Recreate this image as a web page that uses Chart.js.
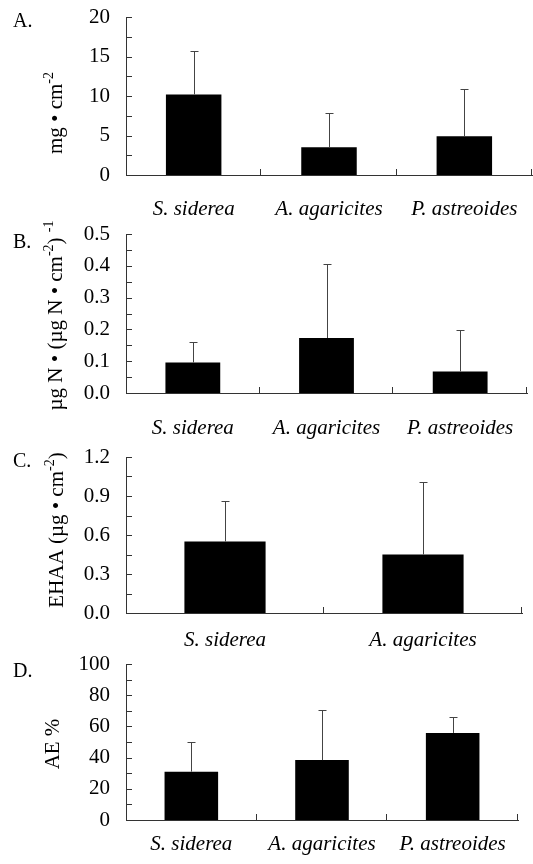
<!DOCTYPE html>
<html>
<head>
<meta charset="utf-8">
<script src="https://cdn.jsdelivr.net/npm/chart.js@4.4.0/dist/chart.umd.min.js"></script>
<style>
  body { margin: 0; background: #fff; }
  #wrap { position: relative; width: 533px; height: 864px; }
  #wrap canvas { position: absolute; left: 0; }
</style>
</head>
<body>
<div id="wrap">
  <canvas id="chartA" width="533" height="220" style="top:0px"></canvas>
  <canvas id="chartB" width="533" height="220" style="top:220px"></canvas>
  <canvas id="chartC" width="533" height="212" style="top:440px"></canvas>
  <canvas id="chartD" width="533" height="212" style="top:652px"></canvas>
</div>
<script>
// Species (x axis categories)
const species3 = ['S. siderea', 'A. agaricites', 'P. astreoides'];
const species2 = ['S. siderea', 'A. agaricites'];

// A. tissue biomass, mg cm-2 (mean and +SD)
const meanA = [10.2, 3.5, 4.9];
const sdA = [5.5, 4.3, 6.0];
const ticksA = ['0', '5', '10', '15', '20'];

// B. N uptake
const meanB = [0.096, 0.173, 0.068];
const sdB = [0.064, 0.233, 0.130];
const ticksB = ['0.0', '0.1', '0.2', '0.3', '0.4', '0.5'];

// C. EHAA
const meanC = [0.55, 0.45];
const sdC = [0.31, 0.56];
const ticksC = ['0.0', '0.3', '0.6', '0.9', '1.2'];

// D. absorption efficiency (%)
const meanD = [31, 38.4, 55.8];
const sdD = [19, 32.2, 10.3];
const ticksD = ['0', '20', '40', '60', '80', '100'];

const FONT = "'Liberation Serif', 'Times New Roman', serif";
const INK = '#000';
const LINE = '#333';

/**
 * Draw a rotated axis title made of normal and superscript parts
 */
function drawRotatedTitle(ctx, parts, cx, cy, size) {
    ctx.save();
    ctx.translate(cx, cy);
    ctx.rotate(-Math.PI / 2);
    ctx.fillStyle = INK;
    ctx.textBaseline = 'middle';
    let total = 0;
    parts.forEach(p => {
        ctx.font = `${p.sup ? Math.round(size * 0.65) : size}px ${FONT}`;
        p.w = ctx.measureText(p.t).width;
        total += p.w;
    });
    let x = -total / 2;
    parts.forEach(p => {
        ctx.font = `${p.sup ? Math.round(size * 0.65) : size}px ${FONT}`;
        ctx.fillText(p.t, x, p.sup ? -size * 0.33 : 0);
        x += p.w;
    });
    ctx.restore();
}

function strokeLine(ctx, x1, y1, x2, y2) {
    ctx.beginPath();
    ctx.moveTo(x1, y1);
    ctx.lineTo(x2, y2);
    ctx.stroke();
}

/**
 * Build one panel of the figure
 */
function makePanel(id, cfg) {
    const canvas = document.getElementById(id);
    const H = canvas.height;
    const tickVals = cfg.ticks.map(parseFloat);

    const decor = {
        id: 'decor' + id,
        afterDraw(chart) {
            const ctx = chart.ctx;
            const area = chart.chartArea;
            const y = chart.scales.y;
            ctx.save();
            ctx.strokeStyle = LINE;
            ctx.lineWidth = 1;

            // inward ticks on the y axis, one minor tick between labels
            const marks = [];
            tickVals.forEach((v, i) => {
                marks.push(v);
                if (i < tickVals.length - 1) marks.push((v + tickVals[i + 1]) / 2);
            });
            marks.forEach(v => {
                const py = Math.round(y.getPixelForValue(v)) + 0.5;
                strokeLine(ctx, area.left, py, area.left + 6, py);
            });

            // category separators on the x axis
            const n = cfg.labels.length;
            const w = (area.right - area.left) / n;
            for (let i = 1; i <= n; i++) {
                const px = Math.round(area.left + i * w) - 0.5;
                strokeLine(ctx, px, area.bottom, px, area.bottom - 6);
            }

            // error bars (mean + SD)
            ctx.strokeStyle = '#444';
            chart.getDatasetMeta(0).data.forEach((bar, i) => {
                const top = Math.round(y.getPixelForValue(cfg.mean[i] + cfg.sd[i])) + 0.5;
                const px = Math.round(bar.x) + 0.5;
                strokeLine(ctx, px, bar.y, px, top);
                strokeLine(ctx, px - 4, top, px + 4, top);
            });

            // axis title and panel letter
            drawRotatedTitle(ctx, cfg.title, cfg.titleX, (area.top + area.bottom) / 2 + cfg.titleDy, 21);
            ctx.fillStyle = INK;
            ctx.font = `20px ${FONT}`;
            ctx.textBaseline = 'alphabetic';
            ctx.fillText(cfg.letter, 13, cfg.letterY);
            ctx.restore();
        }
    };

    return new Chart(canvas, {
        type: 'bar',
        data: {
            labels: cfg.labels,
            datasets: [{
                data: cfg.mean,
                backgroundColor: INK,
                borderWidth: 0,
                barPercentage: 0.41,
                categoryPercentage: 1.0
            }]
        },
        options: {
            responsive: false,
            animation: false,
            devicePixelRatio: 1,
            layout: { padding: { top: cfg.top, right: cfg.right, left: 0, bottom: 0 } },
            plugins: { legend: { display: false }, tooltip: { enabled: false } },
            scales: {
                x: {
                    grid: { display: false, drawTicks: false },
                    border: { display: true, color: LINE, width: 1 },
                    ticks: {
                        color: INK,
                        padding: cfg.labelPad,
                        maxRotation: 0,
                        font: { family: FONT, size: 21, style: 'italic' }
                    },
                    afterFit(s) {
                        s.height = H - cfg.bottom;
                        s.paddingLeft = 0;
                        s.paddingRight = 0;
                    }
                },
                y: {
                    min: tickVals[0],
                    max: tickVals[tickVals.length - 1],
                    grid: { display: false, drawTicks: false },
                    border: { display: true, color: LINE, width: 1 },
                    afterBuildTicks(s) { s.ticks = tickVals.map(v => ({ value: v })); },
                    ticks: {
                        color: INK,
                        padding: 16,
                        autoSkip: false,
                        font: { family: FONT, size: 21 },
                        callback: (v, i) => cfg.ticks[i]
                    },
                    afterFit(s) {
                        s.width = cfg.left;
                        s.paddingTop = 0;
                        s.paddingBottom = 0;
                    }
                }
            }
        },
        plugins: [decor]
    });
}

makePanel('chartA', {
    labels: species3, mean: meanA, sd: sdA, ticks: ticksA, letter: 'A.', letterY: 27,
    title: [{ t: 'mg • cm' }, { t: '-2', sup: true }],
    titleX: 56, titleDy: 17,
    top: 17, bottom: 175, left: 126, right: 1, labelPad: 22
});

makePanel('chartB', {
    labels: species3, mean: meanB, sd: sdB, ticks: ticksB, letter: 'B.', letterY: 28,
    title: [{ t: 'µg N • (µg N • cm' }, { t: '-2', sup: true }, { t: ') ' }, { t: '-1', sup: true }],
    titleX: 56, titleDy: 2,
    top: 14, bottom: 173, left: 126, right: 6, labelPad: 23
});

makePanel('chartC', {
    labels: species2, mean: meanC, sd: sdC, ticks: ticksC, letter: 'C.', letterY: 27,
    title: [{ t: 'EHAA (µg • cm' }, { t: '-2', sup: true }, { t: ')' }],
    titleX: 57, titleDy: -5,
    top: 17, bottom: 173, left: 126, right: 11, labelPad: 15
});

makePanel('chartD', {
    labels: species3, mean: meanD, sd: sdD, ticks: ticksD, letter: 'D.', letterY: 25,
    title: [{ t: 'AE %' }],
    titleX: 53, titleDy: 2,
    top: 12, bottom: 168, left: 126, right: 15, labelPad: 12
});
</script>
</body>
</html>
